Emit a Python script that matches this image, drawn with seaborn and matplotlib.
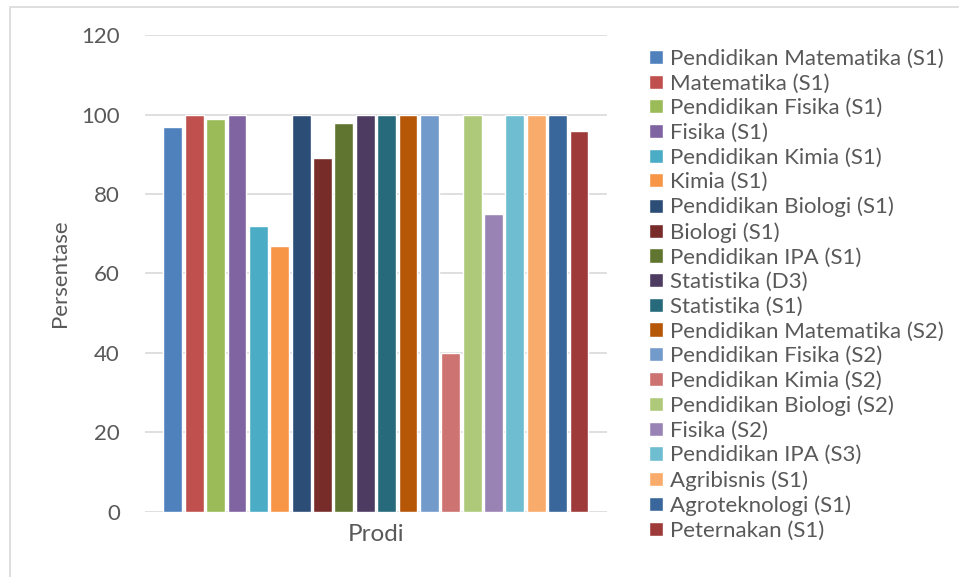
import pandas as pd
import matplotlib.pyplot as plt
import seaborn as sns
from matplotlib.patches import Rectangle

prodi = ['Pendidikan Matematika (S1)', 'Matematika (S1)', 'Pendidikan Fisika (S1)',
         'Fisika (S1)', 'Pendidikan Kimia (S1)', 'Kimia (S1)', 'Pendidikan Biologi (S1)',
         'Biologi (S1)', 'Pendidikan IPA (S1)', 'Statistika (D3)', 'Statistika (S1)',
         'Pendidikan Matematika (S2)', 'Pendidikan Fisika (S2)', 'Pendidikan Kimia (S2)',
         'Pendidikan Biologi (S2)', 'Fisika (S2)', 'Pendidikan IPA (S3)', 'Agribisnis (S1)',
         'Agroteknologi (S1)', 'Peternakan (S1)']
persentase = [97, 100, 99, 100, 72, 67, 100, 89, 98, 100,
              100, 100, 100, 40, 100, 75, 100, 100, 100, 96]
warna = ['#4F81BD', '#C0504D', '#9BBB59', '#8064A2', '#4BACC6', '#F79646',
         '#2C4D75', '#772C2A', '#5F7530', '#4D3B62', '#276A7C', '#B65708',
         '#729ACA', '#CD7371', '#AFC97A', '#9983B5', '#6FBDD1', '#F9AB6B',
         '#3A679B', '#9E3B3A']

df = pd.DataFrame({'kategori': 'Prodi', 'prodi': prodi, 'nilai': persentase})

sns.set_style('white')
plt.rcParams['font.family'] = ['Lato', 'DejaVu Sans']
abu = '#595959'

fig = plt.figure(figsize=(9.59, 5.77), dpi=100)
ax = fig.add_axes([0.151, 0.113, 0.482, 0.826])
sns.barplot(data=df, x='kategori', y='nilai', hue='prodi', palette=warna,
            width=0.925, gap=0.12, saturation=1, ax=ax)

ax.set_xlim(-0.5, 0.5)
ax.set_ylim(0, 120)
ax.set_yticks(range(0, 121, 20))
ax.yaxis.grid(True, color='#D9D9D9', linewidth=1.2)
ax.set_axisbelow(True)
for s in ax.spines.values():
    s.set_visible(False)
ax.tick_params(axis='both', length=0, labelsize=16, colors=abu, pad=18)
ax.set_xticks([])
ax.set_ylabel('Persentase', fontsize=16, color=abu, labelpad=8)
ax.set_xlabel('Prodi', fontsize=17.5, color=abu, labelpad=8.5)

ax.legend(loc='upper left', bbox_to_anchor=(1.072, 0.99), frameon=False,
          fontsize=16, handlelength=0.6, handleheight=0.6, handletextpad=0.32,
          labelspacing=0.21, labelcolor=abu, borderaxespad=0)

fig.patches.append(Rectangle((0.0105, -0.01), 1.0, 0.998, transform=fig.transFigure,
                             fill=False, edgecolor='#D9D9D9', linewidth=1.2))

fig.savefig('out.png', dpi=100)
